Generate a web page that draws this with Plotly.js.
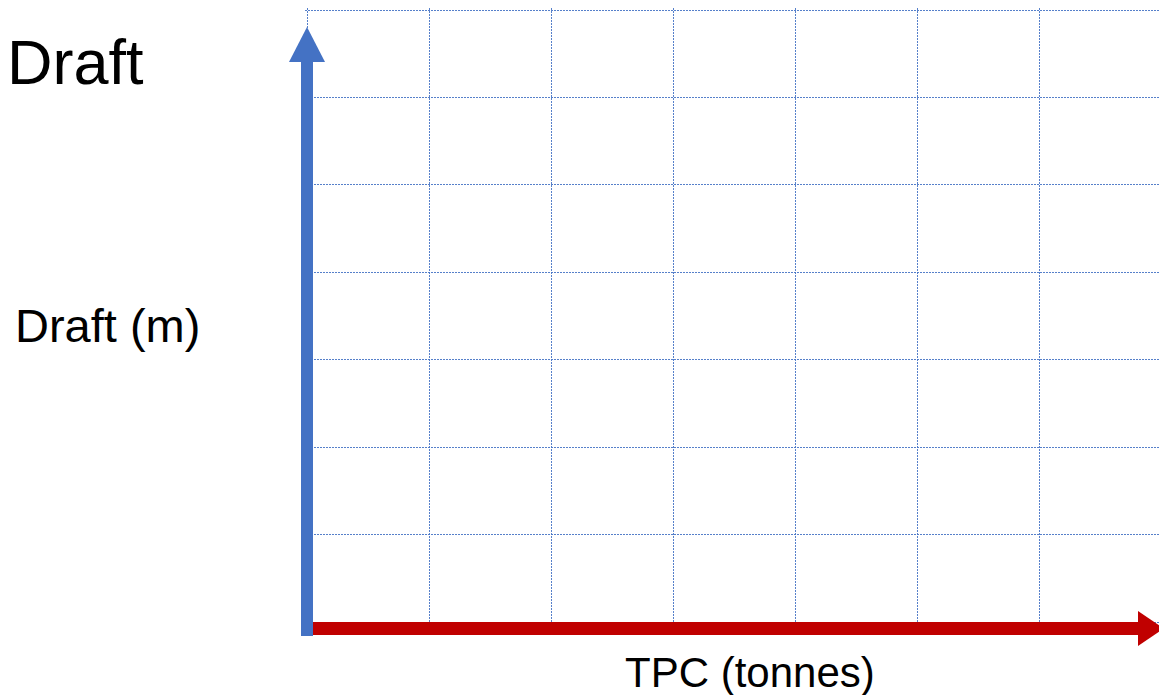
<!DOCTYPE html>
<html>
<head>
<meta charset="utf-8">
<script src="https://cdn.plot.ly/plotly-3.0.1.min.js"></script>
<style>html,body{margin:0;padding:0;background:#fff;}#chart{width:1159px;height:695px;}</style>
</head>
<body>
<div id="chart"></div>
<script>
// Grid positions (empty chart: only gridlines, axis arrows and labels)
const xGrid = [0, 1, 2, 3, 4, 5, 6, 7];
const yGrid = [0, 1, 2, 3, 4, 5, 6, 7];
const xValues = [];
const yValues = [];
const titleText = "Draft";
const yLabel = "Draft (m)";
const xLabel = "TPC (tonnes)";

const W = 1159, H = 695;
const M = {l: 305, r: 0, t: 8, b: 71, pad: 0};
const plotW = W - M.l - M.r, plotH = H - M.t - M.b;
const px = v => (v - M.l) / plotW;
const py = v => (H - M.b - v) / plotH;

const blue = "#4472C4", red = "#C00000";
const gridBlue = "rgba(68,114,196,0.9)";
const font = "Liberation Sans, Arial, sans-serif";

const trace = {x: xValues, y: yValues, type: "scatter", mode: "lines", showlegend: false, hoverinfo: "skip"};

const layout = {
  width: W, height: H,
  margin: M,
  paper_bgcolor: "#ffffff", plot_bgcolor: "#ffffff",
  showlegend: false,
  xaxis: {range: [-2.5/122, (W - M.l)/122 - 2.5/122], tickvals: xGrid, showticklabels: false, ticks: "",
          showgrid: true, gridcolor: gridBlue, gridwidth: 1, griddash: "2px,1px",
          zeroline: false, showline: false, fixedrange: true},
  yaxis: {range: [-2/87.43, 7 + 2/87.43], tickvals: yGrid, showticklabels: false, ticks: "",
          showgrid: true, gridcolor: gridBlue, gridwidth: 1, griddash: "2px,1px",
          zeroline: false, showline: false, fixedrange: true},
  shapes: [
    {type: "rect", xref: "paper", yref: "paper", x0: px(313), x1: px(1139), y0: py(622), y1: py(635),
     fillcolor: red, line: {width: 0}, layer: "above"},
    {type: "path", xref: "paper", yref: "paper",
     path: `M ${px(1138)} ${py(611)} L ${px(1164)} ${py(628.5)} L ${px(1138)} ${py(646)} Z`,
     fillcolor: red, line: {width: 0}, layer: "above"},
    {type: "rect", xref: "paper", yref: "paper", x0: px(301), x1: px(313), y0: py(636), y1: py(61),
     fillcolor: blue, line: {width: 0}, layer: "above"},
    {type: "path", xref: "paper", yref: "paper",
     path: `M ${px(289)} ${py(62)} L ${px(307)} ${py(27)} L ${px(325)} ${py(62)} Z`,
     fillcolor: blue, line: {width: 0}, layer: "above"}
  ],
  annotations: [
    {text: titleText, xref: "paper", yref: "paper", x: px(5), y: py(62), xanchor: "left", yanchor: "middle",
     showarrow: false, font: {family: font, size: 63, color: "#000"}},
    {text: yLabel, xref: "paper", yref: "paper", x: px(107), y: py(325), xanchor: "center", yanchor: "middle",
     showarrow: false, font: {family: font, size: 47, color: "#000"}},
    {text: xLabel, xref: "paper", yref: "paper", x: px(750), y: py(672), xanchor: "center", yanchor: "middle",
     showarrow: false, font: {family: font, size: 42, color: "#000"}}
  ]
};

Plotly.newPlot("chart", [trace], layout, {displayModeBar: false, staticPlot: true});
</script>
</body>
</html>
